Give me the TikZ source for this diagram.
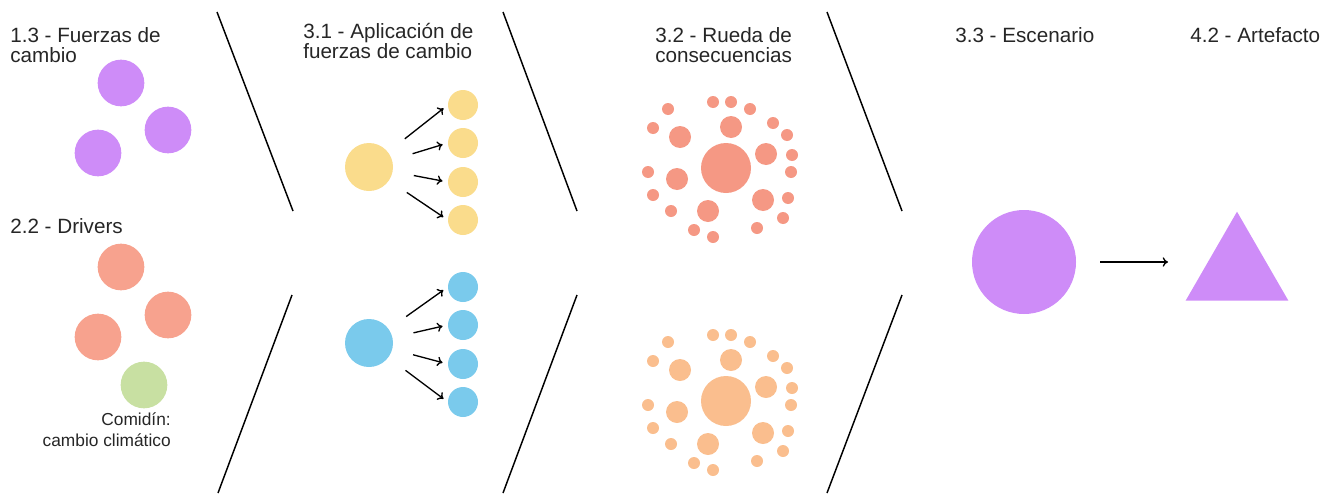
\documentclass[tikz,border=0pt]{standalone}
\usepackage{fontspec}
\setmainfont{Liberation Sans}
\usetikzlibrary{arrows,arrows.meta,positioning,calc,shapes.geometric}

\definecolor{lila}{RGB}{206,140,248}
\definecolor{salmon}{RGB}{247,162,142}
\definecolor{verde}{RGB}{200,224,162}
\definecolor{amarillo}{RGB}{250,220,140}
\definecolor{celeste}{RGB}{122,202,236}
\definecolor{rojizo}{RGB}{245,152,132}
\definecolor{naranja}{RGB}{250,190,142}

\newcommand{\ruedaconsec}[3]{%
\node[bola,fill=#3,minimum size=37.5pt] (#1) at (#2) {};
\foreach \dx/\dy in {5/-41,-46/-31,40/-14,-49/11,37/32,-18/43}
  \node[bola,fill=#3,minimum size=16.5pt] at ($(#1)+(\dx,\dy)$) {};
\foreach \dx/\dy in {-13/-66,5/-66,24/-59,-58/-59,-73/-40,47/-45,61/-33,66/-13,-78/4,65/4,-73/27,62/30,-55/43,57/50,-32/62,31/60,-13/69}
  \node[bola,fill=#3,minimum size=9pt] at ($(#1)+(\dx,\dy)$) {};
}

\begin{document}
\begin{tikzpicture}[x=0.75pt,y=-0.75pt,>={To[length=4pt,width=7pt]},
  bola/.style={circle,inner sep=0pt,draw=none},
  titulo/.style={anchor=north west,align=left,inner sep=0pt,text=black!85,font=\fontsize{15.5}{15}\selectfont},
  nota/.style={anchor=north east,align=right,inner sep=0pt,text=black!85,font=\fontsize{13}{16}\selectfont},
  corte/.style={line width=1.1pt},
  flecha/.style={->,line width=1pt,shorten <=16pt,shorten >=4pt}]

\useasboundingbox (0,0) rectangle (1334,493);

\node[titulo] (t13) at (10,27) {1.3 - Fuerzas de\\cambio};
\node[titulo] (t22) at (10,218) {2.2 - Drivers};
\node[titulo] (t31) at (303,23) {3.1 - Aplicación de\\fuerzas de cambio};
\node[titulo] (t32) at (655,27) {3.2 - Rueda de\\consecuencias};
\node[titulo] (t33) at (955,27) {3.3 - Escenario};
\node[titulo] (t42) at (1190,27) {4.2 - Artefacto};

\draw[corte] (217,12) -- (293,211);
\draw[corte] (292,295) -- (218,493);
\draw[corte] (503,12) -- (577,211);
\draw[corte] (577,295) -- (503,493);
\draw[corte] (827,12) -- (902,211);
\draw[corte] (902,295) -- (827,493);

\node[bola,fill=lila,minimum size=35pt] (f1) at (121,83) {};
\node[bola,fill=lila,minimum size=35pt] (f2) at (168,130) {};
\node[bola,fill=lila,minimum size=35pt] (f3) at (98,153) {};

\node[bola,fill=salmon,minimum size=35pt] (d1) at (121,267) {};
\node[bola,fill=salmon,minimum size=35pt] (d2) at (168,315) {};
\node[bola,fill=salmon,minimum size=35pt] (d3) at (98,337) {};
\node[bola,fill=verde,minimum size=35pt] (com) at (144,385) {};
\node[nota] (comtxt) at (171,412) {Comidín:\\cambio climático};

\node[bola,fill=amarillo,minimum size=36pt] (ybig) at (369,167) {};
\foreach \k/\yy in {1/105,2/143,3/182,4/220}{
  \node[bola,fill=amarillo,minimum size=22.5pt] (y\k) at (463,\yy) {};
  \draw[flecha] (ybig) -- (y\k.west);
}

\node[bola,fill=celeste,minimum size=36pt] (bbig) at (369,343) {};
\foreach \k/\yy in {1/287,2/325,3/364,4/402}{
  \node[bola,fill=celeste,minimum size=22.5pt] (b\k) at (463,\yy) {};
  \draw[flecha] (bbig) -- (b\k.west);
}

\ruedaconsec{r1}{726,168}{rojizo}
\ruedaconsec{r2}{726,401}{naranja}

\node[bola,fill=lila,minimum size=78pt] (esc) at (1024,262) {};
\node[regular polygon,regular polygon sides=3,inner sep=0pt,minimum size=89pt,fill=lila] (art) at (1237,271) {};
\draw[->,line width=1pt,shorten <=18pt,shorten >=51.75pt] (esc.east) -- (esc.east -| art.center);

\end{tikzpicture}
\end{document}
